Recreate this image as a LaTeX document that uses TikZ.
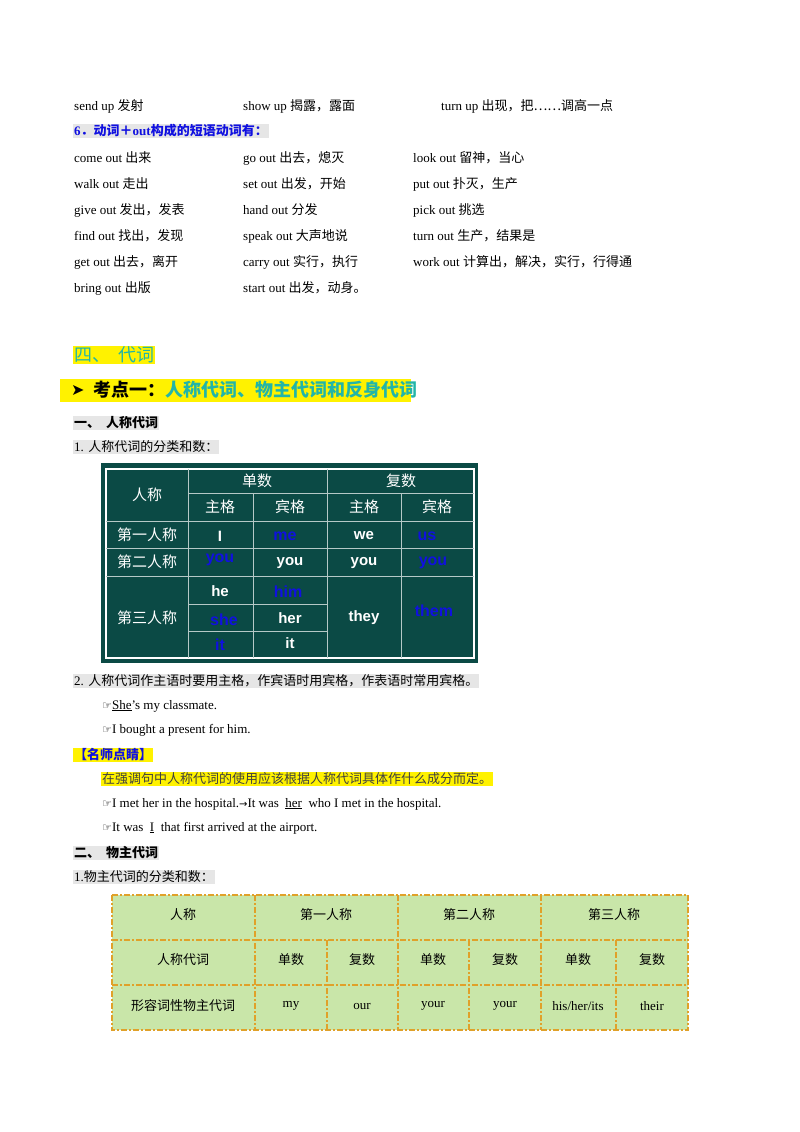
\documentclass[tikz,border=0pt]{standalone}
\usepackage{fontspec}
\setmainfont{Liberation Serif}
\newfontfamily\cjk{Noto Sans CJK SC}
\newfontfamily\arial{Liberation Sans}
\newfontfamily\dvs{DejaVu Sans}
\definecolor{tgreen}{HTML}{0B4A45}
\definecolor{teal2}{HTML}{22B5A8}
\definecolor{hlgray}{HTML}{E6E6E6}
\definecolor{tbfill}{HTML}{C9E6A9}
\definecolor{tbline}{HTML}{E0A12A}
\definecolor{pblue}{HTML}{1010E0}
\begin{document}
\begin{tikzpicture}[x=1pt,y=-1pt,
  txt/.style={anchor=west,inner sep=1pt,font=\fontsize{13}{15}\selectfont},
  hl/.style={txt,fill=hlgray},
  yl/.style={txt,fill=yellow},
  wt/.style={text=white,font=\cjk\fontsize{15}{17}\selectfont},
  we/.style={text=white,font=\arial\bfseries\fontsize{15}{17}\selectfont},
  be/.style={text=pblue,font=\arial\bfseries\fontsize{16}{18}\selectfont},
  tc/.style={font=\fontsize{13}{15}\selectfont},
  tcc/.style={font=\cjk\fontsize{13}{15}\selectfont}]
\useasboundingbox (0,0) rectangle (800,1132);
\fill[white] (0,0) rectangle (800,1132);
% phrasal verbs
\node[txt] (a1) at (73,106) {send up {\cjk 发射}};
\node[txt] (a2) at (242,106) {show up {\cjk 揭露，露面}};
\node[txt] (a3) at (440,106) {turn up {\cjk 出现，把……调高一点}};
\node[hl,text=pblue] (h6) at (73,131) {\textbf{6}{\cjk\bfseries ．动词＋}\textbf{out}{\cjk\bfseries 构成的短语动词有：}};
\node[txt] (b1) at (73,158) {come out {\cjk 出来}};
\node[txt] (b2) at (242,158) {go out {\cjk 出去，熄灭}};
\node[txt] (b3) at (412,158) {look out {\cjk 留神，当心}};
\node[txt] (c1) at (73,184) {walk out {\cjk 走出}};
\node[txt] (c2) at (242,184) {set out {\cjk 出发，开始}};
\node[txt] (c3) at (412,184) {put out {\cjk 扑灭，生产}};
\node[txt] (d1) at (73,210) {give out {\cjk 发出，发表}};
\node[txt] (d2) at (242,210) {hand out {\cjk 分发}};
\node[txt] (d3) at (412,210) {pick out {\cjk 挑选}};
\node[txt] (e1) at (73,236) {find out {\cjk 找出，发现}};
\node[txt] (e2) at (242,236) {speak out {\cjk 大声地说}};
\node[txt] (e3) at (412,236) {turn out {\cjk 生产，结果是}};
\node[txt] (f1) at (73,262) {get out {\cjk 出去，离开}};
\node[txt] (f2) at (242,262) {carry out {\cjk 实行，执行}};
\node[txt] (f3) at (412,262) {work out {\cjk 计算出，解决，实行，行得通}};
\node[txt] (g1) at (73,288) {bring out {\cjk 出版}};
\node[txt] (g2) at (242,288) {start out {\cjk 出发，动身。}};
% headings
\node[txt,fill=yellow,text=teal2,font=\cjk\fontsize{18}{20}\selectfont] (s4) at (73,355) {四、\ \ 代词};
\fill[yellow] (60,379) rectangle (411,402);
\node[txt,font=\dvs\fontsize{16}{18}\selectfont] (arr) at (70,390) {➤};
\node[txt,font=\cjk\bfseries\fontsize{18}{20}\selectfont] (kd) at (92,390) {考点一：\textcolor{teal2}{人称代词、物主代词和反身代词}};
\node[hl,font=\cjk\bfseries\fontsize{13}{15}\selectfont] (y1) at (73,423) {一、\ \ 人称代词};
\node[hl] (n1) at (73,447) {1. {\cjk 人称代词的分类和数：}};
% table 1
\fill[tgreen] (101,463) rectangle (478,663);
\draw[white,line width=1.2pt] (106,469) rectangle (474,658);
\draw[white!70!tgreen,line width=0.8pt]
  (188,469)--(188,658) (253,493)--(253,658) (327,469)--(327,658) (401,493)--(401,658)
  (188,493)--(474,493) (106,521)--(474,521) (106,548)--(474,548) (106,576)--(474,576)
  (188,604)--(327,604) (188,631)--(327,631);
\node[wt] (t00) at (147,495) {人称};
\node[wt] (t01) at (257,481) {单数};
\node[wt] (t02) at (401,481) {复数};
\node[wt] (t11) at (220,507) {主格};
\node[wt] (t12) at (290,507) {宾格};
\node[wt] (t13) at (364,507) {主格};
\node[wt] (t14) at (437,507) {宾格};
\node[wt] (r1) at (147,535) {第一人称};
\node[wt] (r2) at (147,562) {第二人称};
\node[wt] (r3) at (147,618) {第三人称};
\node[we] (c11) at (220,536) {I};
\node[be] (c12) at (285,536) {me};
\node[we] (c13) at (364,536) {we};
\node[be] (c14) at (427,536) {us};
\node[be] (c21) at (220,560) {you};
\node[we] (c22) at (290,563) {you};
\node[we] (c23) at (364,563) {you};
\node[be] (c24) at (433,563) {you};
\node[we] (c31) at (220,591) {he};
\node[be] (c32) at (288,592) {him};
\node[be] (c33) at (224,620) {she};
\node[we] (c34) at (290,618) {her};
\node[be] (c35) at (220,645) {it};
\node[we] (c36) at (290,643) {it};
\node[we] (c37) at (364,618) {they};
\node[be] (c38) at (434,611) {them};
% rule 2
\node[hl] (n2) at (73,681) {2. {\cjk 人称代词作主语时要用主格，作宾语时用宾格，作表语时常用宾格。}};
\node[txt] (x1) at (101,706) {{\dvs\fontsize{11}{13}\selectfont ☞}\underline{She}’s my classmate.};
\node[txt] (x2) at (101,730) {{\dvs\fontsize{11}{13}\selectfont ☞}I bought a present for him.};
\node[yl,text=pblue,font=\cjk\bfseries\fontsize{13}{15}\selectfont] (ms) at (73,755) {【名师点睛】};
\node[yl,text=black!75,font=\cjk\fontsize{13}{15}\selectfont] (ms2) at (101,779) {在强调句中人称代词的使用应该根据人称代词具体作什么成分而定。};
\node[txt] (x3) at (101,804) {{\dvs\fontsize{11}{13}\selectfont ☞}I met her in the hospital.{\dvs\fontsize{10}{12}\selectfont →}It was \ \underline{her} \ who I met in the hospital.};
\node[txt] (x4) at (101,828) {{\dvs\fontsize{11}{13}\selectfont ☞}It was \ \underline{I} \ that first arrived at the airport.};
\node[hl,font=\cjk\bfseries\fontsize{13}{15}\selectfont] (y2) at (73,853) {二、\ \ 物主代词};
\node[hl] (n3) at (73,877) {1.{\cjk 物主代词的分类和数：}};
% table 2
\fill[tbfill] (112,895) rectangle (688,1030);
\draw[tbline,line width=1.2pt,dash pattern=on 6pt off 2pt on 2pt off 2pt]
  (112,895) rectangle (688,1030)
  (255,895)--(255,1030) (398,895)--(398,1030) (541,895)--(541,1030)
  (327,940)--(327,1030) (469,940)--(469,1030) (616,940)--(616,1030)
  (112,940)--(688,940) (112,985)--(688,985);
\node[tcc] (p00) at (183,915) {人称};
\node[tcc] (p01) at (326,915) {第一人称};
\node[tcc] (p02) at (469,915) {第二人称};
\node[tcc] (p03) at (614,915) {第三人称};
\node[tcc] (p10) at (183,960) {人称代词};
\node[tcc] (p11) at (291,960) {单数};
\node[tcc] (p12) at (362,960) {复数};
\node[tcc] (p13) at (433,960) {单数};
\node[tcc] (p14) at (505,960) {复数};
\node[tcc] (p15) at (578,960) {单数};
\node[tcc] (p16) at (652,960) {复数};
\node[tcc] (p20) at (183,1006) {形容词性物主代词};
\node[tc] (p21) at (291,1006) {my};
\node[tc] (p22) at (362,1006) {our};
\node[tc] (p23) at (433,1006) {your};
\node[tc] (p24) at (505,1006) {your};
\node[tc] (p25) at (578,1006) {his/her/its};
\node[tc] (p26) at (652,1006) {their};
\end{tikzpicture}
\end{document}
